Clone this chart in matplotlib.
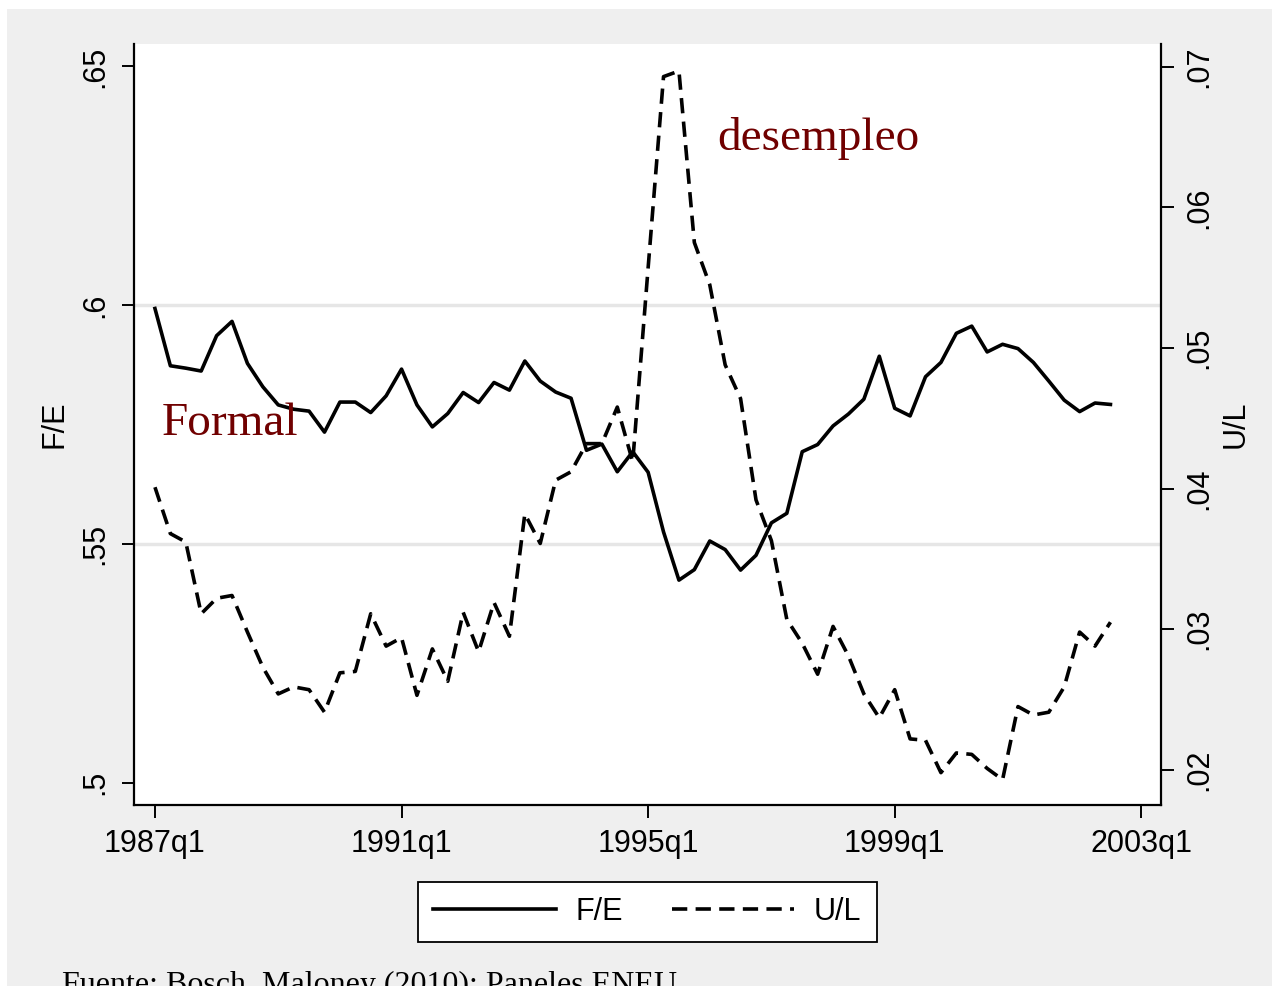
import matplotlib
matplotlib.use("Agg")
import matplotlib.pyplot as plt
from matplotlib.patches import Rectangle
from matplotlib.lines import Line2D
import numpy as np

# ---------------- data ----------------
start_label = "1987q1"
fe = [0.5993, 0.5873, 0.5868, 0.5862, 0.5936, 0.5966, 0.5878, 0.5829, 0.5791, 0.5782,
      0.5778, 0.5734, 0.5797, 0.5797, 0.5775, 0.5810, 0.5866, 0.5791, 0.5745, 0.5773,
      0.5817, 0.5796, 0.5838, 0.5822, 0.5883, 0.5841, 0.5818, 0.5805, 0.5696, 0.5709,
      0.5651, 0.5693, 0.5650, 0.5525, 0.5424, 0.5446, 0.5506, 0.5488, 0.5445, 0.5476,
      0.5544, 0.5564, 0.5693, 0.5708, 0.5747, 0.5772, 0.5803, 0.5893, 0.5784, 0.5768,
      0.5850, 0.5880, 0.5941, 0.5956, 0.5902, 0.5918, 0.5909, 0.5880, 0.5841, 0.5801,
      0.5777, 0.5795, 0.5792]
ul = [0.0401, 0.0368, 0.0362, 0.0311, 0.0322, 0.0324, 0.0298, 0.0273, 0.0254, 0.0259,
      0.0257, 0.0241, 0.0269, 0.0270, 0.0311, 0.0288, 0.0294, 0.0253, 0.0286, 0.0263,
      0.0312, 0.0284, 0.0319, 0.0295, 0.0382, 0.0361, 0.0406, 0.0412, 0.0432, 0.0432,
      0.0458, 0.0419, 0.0557, 0.0693, 0.0697, 0.0575, 0.0545, 0.0488, 0.0464, 0.0392,
      0.0363, 0.0307, 0.0290, 0.0268, 0.0302, 0.0281, 0.0254, 0.0237, 0.0257, 0.0222,
      0.0221, 0.0198, 0.0212, 0.0211, 0.0201, 0.0193, 0.0245, 0.0239, 0.0241, 0.0259,
      0.0298, 0.0288, 0.0305]
x_ticks = [0, 16, 32, 48, 64]
x_tick_labels = ["1987q1", "1991q1", "1995q1", "1999q1", "2003q1"]
left_ticks = [0.50, 0.55, 0.60, 0.65]
left_tick_labels = [".5", ".55", ".6", ".65"]
right_ticks = [0.02, 0.03, 0.04, 0.05, 0.06, 0.07]
right_tick_labels = [".02", ".03", ".04", ".05", ".06", ".07"]
grid_levels = [0.55, 0.60]
series_names = ["F/E", "U/L"]
annotations = [("desempleo", 36.5, 0.6325), ("Formal", 0.45, 0.5727)]
caption = "Fuente: Bosch, Maloney (2010); Paneles ENEU"

# ---------------- style ----------------
plt.rcParams["font.family"] = ["Liberation Sans", "DejaVu Sans"]
plt.rcParams["lines.scale_dashes"] = False
BG = "#EFEFEF"
RED = "#700000"
SERIF = ["Liberation Serif", "DejaVu Serif"]
FS = 22
LW = 2.6
DASH = (11, 6)

fig = plt.figure(figsize=(12.72, 9.86), dpi=100, facecolor="white")
fig.patches.append(Rectangle((7 / 1272, 0), 1 - 7 / 1272, 1 - 9 / 986,
                             transform=fig.transFigure, facecolor=BG,
                             edgecolor="none", zorder=-10))

L, R, B, T = 134 / 1272, 1161 / 1272, 1 - 805 / 986, 1 - 44 / 986
ax = fig.add_axes([L, B, R - L, T - B])
ax.set_facecolor("white")
ax2 = ax.twinx()
ax2.set_facecolor("none")

q = np.arange(len(fe))
ax.plot(q, fe, color="black", lw=LW, zorder=3)
ax2.plot(q, ul, color="black", lw=LW, dashes=DASH, zorder=3)

ax.set_xlim(-1.36, 65.28)
ax.set_ylim(0.4953, 0.6547)
ax2.set_ylim(0.01750, 0.07162)

for g in grid_levels:
    ax.axhline(g, color="#E6E6E6", lw=2.5, zorder=0)

for a in (ax, ax2):
    a.spines["top"].set_visible(False)
    for s in ("left", "right", "bottom"):
        a.spines[s].set_linewidth(1.6)
        a.spines[s].set_color("black")
ax.spines["right"].set_visible(False)
ax2.spines["left"].set_visible(False)
ax2.spines["bottom"].set_visible(False)

ax.set_xticks(x_ticks)
ax.set_xticklabels(x_tick_labels, fontsize=FS)
ax.set_yticks(left_ticks)
ax.set_yticklabels(left_tick_labels, fontsize=FS, rotation=90, va="center")
ax2.set_yticks(right_ticks)
ax2.set_yticklabels(right_tick_labels, fontsize=FS, rotation=90, va="center")
ax.tick_params(axis="both", length=9, width=1.4, pad=8, direction="out")
ax2.tick_params(axis="y", length=9, width=1.4, pad=8, direction="out")

ax.set_ylabel(series_names[0], fontsize=FS, labelpad=8)
ax2.set_ylabel(series_names[1], fontsize=FS, labelpad=4, rotation=90)

for txt, xq, yv in annotations:
    ax.text(xq, yv, txt, fontsize=34, color=RED, family=SERIF, va="baseline",
            ha="left", zorder=4)

handles = [Line2D([], [], color="black", lw=LW),
           Line2D([], [], color="black", lw=LW, dashes=DASH)]
leg = fig.legend(handles, series_names, loc="center", ncol=2,
                 bbox_to_anchor=(647.5 / 1272, 1 - 912 / 986), fontsize=FS,
                 frameon=True, fancybox=False, edgecolor="black",
                 facecolor="white", framealpha=1, handlelength=4.0,
                 handletextpad=0.65, columnspacing=1.6, borderpad=0.5)
leg.get_frame().set_linewidth(1.3)

fig.text(62 / 1272, 1 - 993 / 986, caption, fontsize=23, family=SERIF,
         va="baseline", ha="left")

fig.savefig("out.png", dpi=100, facecolor=fig.get_facecolor())
